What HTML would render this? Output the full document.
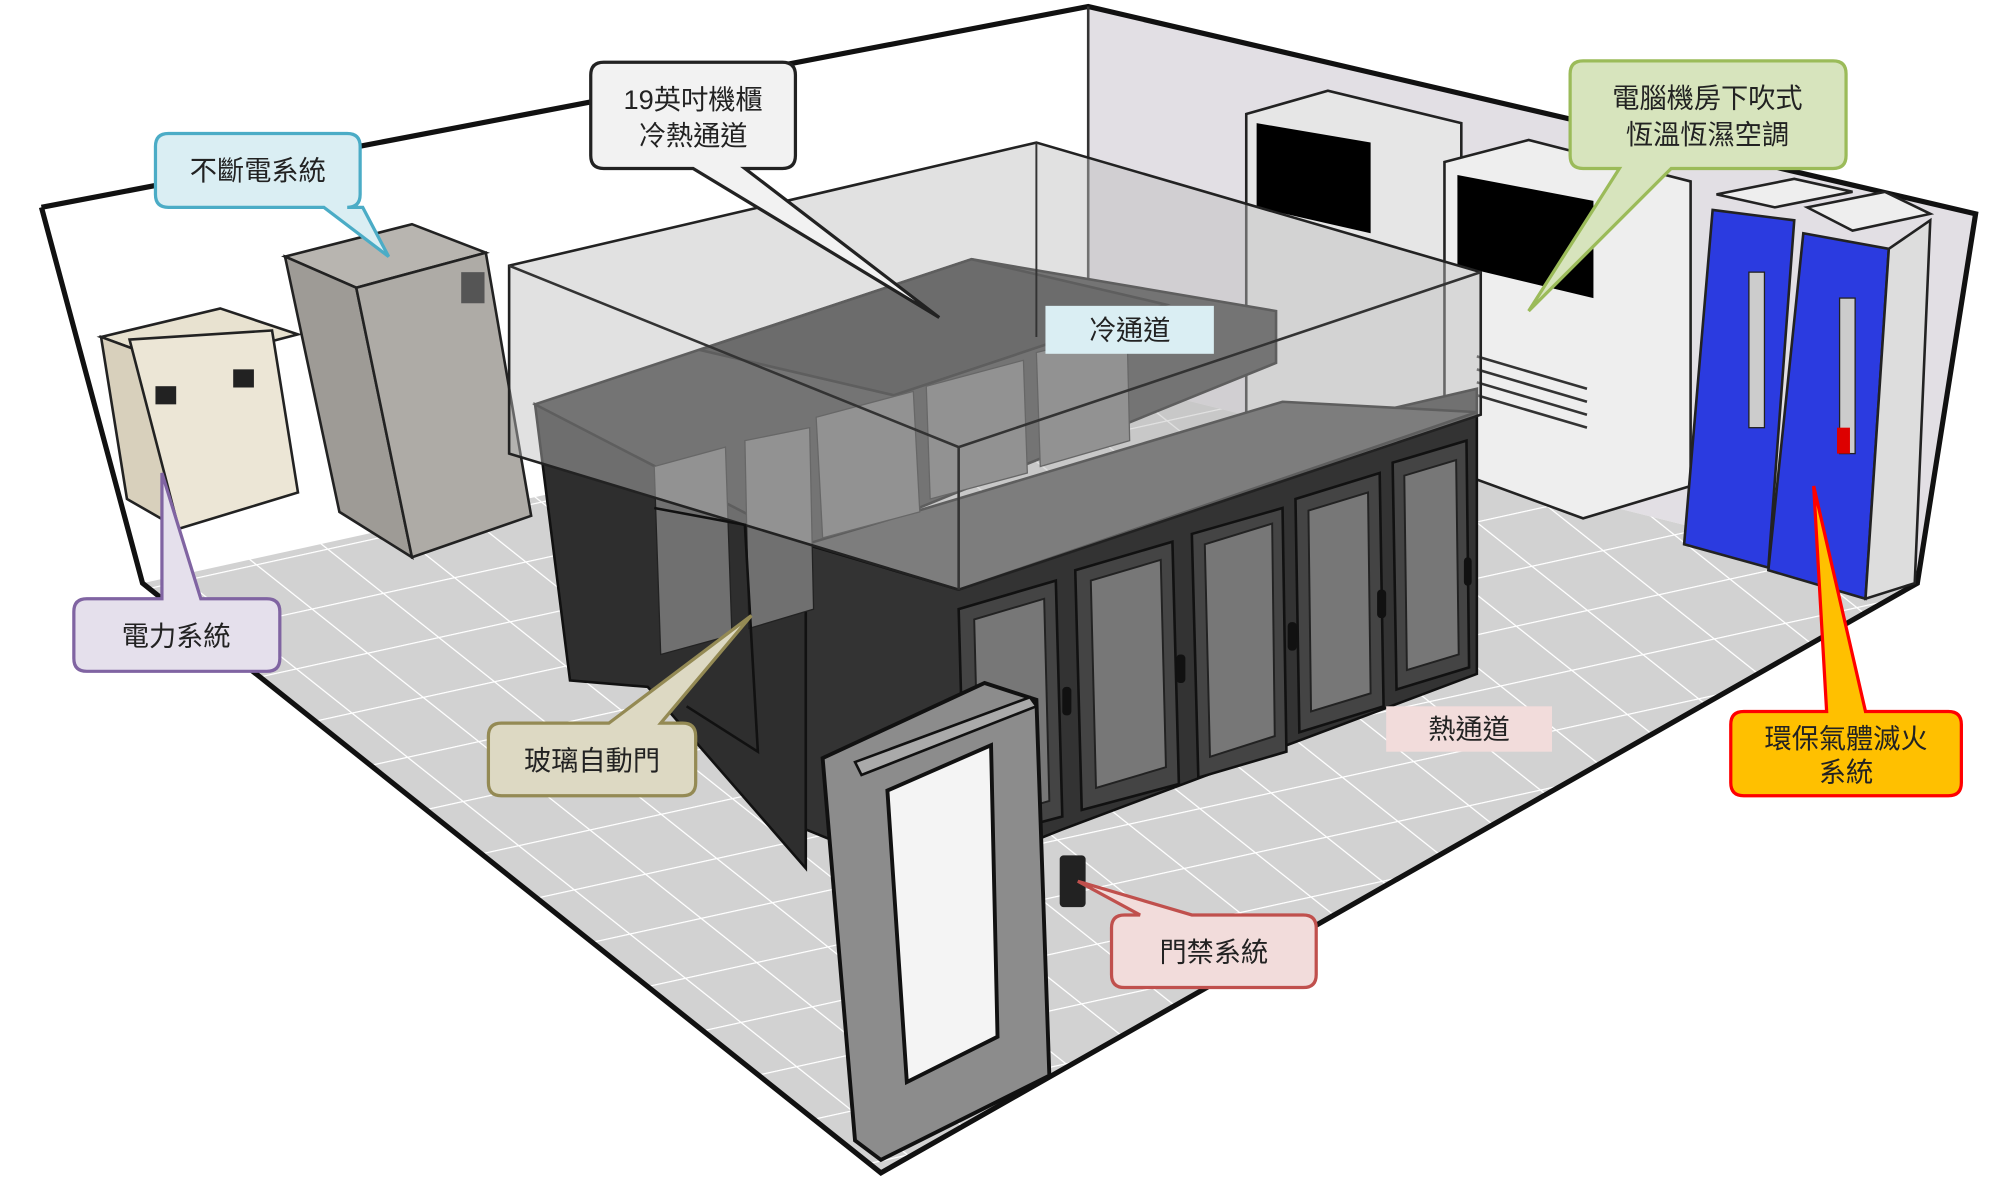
<!DOCTYPE html>
<html><head><meta charset="utf-8"><style>
html,body{margin:0;padding:0;background:#fff;}
svg{display:block;}
text{font-family:"Liberation Sans","Noto Sans CJK TC",sans-serif;font-size:21px;fill:#222;}
</style></head><body>
<svg width="2008" height="1191" viewBox="0 0 1550 919" preserveAspectRatio="none" xmlns="http://www.w3.org/2000/svg">
<defs>
<pattern id="tiles" width="55" height="55" patternUnits="userSpaceOnUse" patternTransform="matrix(1,-0.22,0.78,0.62,0,0)">
<rect width="55" height="55" fill="#d2d2d2"/><path d="M0 0H55M0 0V55" stroke="#fff" stroke-width="2.5"/>
</pattern>
</defs>
<polygon points="32,160 840,5 840,290 110,450" fill="#fff"/>
<polygon points="840,5 1525,165 1480,450 840,290" fill="#e2dfe4"/>
<polygon points="110,450 840,290 1480,450 680,905" fill="url(#tiles)"/>
<polyline points="32,160 840,5 1525,165 1480,450 680,905 110,450 32,160" fill="none" stroke="#111" stroke-width="4"/>
<line x1="840" y1="5" x2="840" y2="290" stroke="#333" stroke-width="2"/>
<polygon points="78,260 170,238 230,258 138,282" fill="#e8e2d0" stroke="#222" stroke-width="2"/>
<polygon points="78,260 138,282 138,408 98,385" fill="#d8d0bc" stroke="#222" stroke-width="2"/>
<polygon points="100,262 210,255 230,380 138,408" fill="#ece6d6" stroke="#222" stroke-width="2"/>
<rect x="120" y="298" width="16" height="14" fill="#222"/><rect x="180" y="285" width="16" height="14" fill="#222"/>
<polygon points="220,198 318,173 375,195 275,222" fill="#b8b5b0" stroke="#222" stroke-width="2"/>
<polygon points="220,198 275,222 318,430 262,395" fill="#9e9b96" stroke="#222" stroke-width="2"/>
<polygon points="275,222 375,195 410,398 318,430" fill="#aeaba6" stroke="#222" stroke-width="2"/>
<rect x="356" y="210" width="18" height="24" fill="#555"/>
<polygon points="962,88 1025,70 1128,95 1128,350 1060,330 962,330" fill="#e6e6e6" stroke="#222" stroke-width="2"/>
<polygon points="970,95 1058,110 1058,180 970,160" fill="#000"/>
<polygon points="1115,125 1180,108 1305,140 1305,375 1222,400 1140,370 1115,370" fill="#eeeeee" stroke="#222" stroke-width="2"/>
<polygon points="1125,135 1230,155 1230,230 1125,205" fill="#000"/>
<g stroke="#333" stroke-width="2"><line x1="1140" y1="275" x2="1225" y2="300"/><line x1="1140" y1="285" x2="1225" y2="310"/><line x1="1140" y1="295" x2="1225" y2="320"/><line x1="1140" y1="305" x2="1225" y2="330"/></g>
<polygon points="1325,150 1385,138 1430,148 1370,160" fill="#eee" stroke="#222" stroke-width="2"/>
<polygon points="1395,160 1455,148 1490,165 1430,178" fill="#eee" stroke="#222" stroke-width="2"/>
<polygon points="1322,162 1385,170 1365,438 1300,420" fill="#2b3be0" stroke="#222" stroke-width="2"/>
<polygon points="1392,180 1458,192 1440,462 1365,440" fill="#2b3be0" stroke="#222" stroke-width="2"/>
<polygon points="1458,192 1490,170 1478,450 1440,462" fill="#ddd" stroke="#222" stroke-width="2"/>
<rect x="1350" y="210" width="12" height="120" fill="#ccc" stroke="#222"/><rect x="1420" y="230" width="12" height="120" fill="#ccc" stroke="#222"/>
<rect x="1418" y="330" width="10" height="20" fill="#d00"/>
<!-- rack cluster -->
<polygon points="413,312 750,200 985,240 985,280 640,420 640,540 622,445" fill="#3a3a3a" stroke="#111" stroke-width="2"/>
<polygon points="540,270 750,200 900,235 690,305" fill="#2a2a2a" stroke="#111" stroke-width="2"/>
<polygon points="413,312 622,420 622,670 500,530 440,525" fill="#2e2e2e" stroke="#111" stroke-width="2"/>
<polygon points="622,420 1140,300 1140,520 820,640 720,680 622,640" fill="#333" stroke="#111" stroke-width="2"/>
<polygon points="622,420 990,310 1140,318 740,455" fill="#4a4a4a" stroke="#111" stroke-width="2"/>
<g fill="#444" stroke="#111" stroke-width="2">
<polygon points="740,470 815,448 820,630 745,650"/>
<polygon points="830,440 905,418 910,605 835,625"/>
<polygon points="920,412 990,392 993,580 925,600"/>
<polygon points="1000,385 1065,365 1068,545 1003,565"/>
<polygon points="1075,357 1132,340 1134,515 1078,532"/>
</g>
<g fill="#777" stroke="#222" stroke-width="1.5">
<polygon points="752,478 806,462 810,618 756,634"/>
<polygon points="842,448 896,432 900,592 846,608"/>
<polygon points="930,420 982,404 984,568 934,584"/>
<polygon points="1010,394 1056,380 1058,535 1012,549"/>
<polygon points="1084,367 1124,355 1126,505 1086,517"/>
</g>
<g fill="#111"><rect x="820" y="530" width="7" height="22" rx="3"/><rect x="908" y="505" width="7" height="22" rx="3"/><rect x="994" y="480" width="7" height="22" rx="3"/><rect x="1063" y="455" width="7" height="22" rx="3"/><rect x="1130" y="430" width="6" height="22" rx="3"/></g>
<g fill="#707070" stroke="#222"><polygon points="630,322 705,302 710,395 635,415"/><polygon points="715,298 790,278 793,365 718,385"/><polygon points="800,272 870,255 872,340 803,360"/><polygon points="505,360 560,345 565,490 510,505"/><polygon points="575,340 625,330 628,470 578,485"/></g>
<polygon points="393,205 800,110 1143,210 1143,320 740,455 393,350" fill="#bdbdbd" fill-opacity="0.45" stroke="#222" stroke-width="2"/>
<polyline points="393,205 740,345 1143,210" fill="none" stroke="#333" stroke-width="2"/>
<line x1="740" y1="345" x2="740" y2="455" stroke="#333" stroke-width="2"/>
<line x1="800" y1="110" x2="800" y2="260" stroke="#333" stroke-width="1.5"/>
<polyline points="505,392 575,405 585,580 530,545" fill="none" stroke="#111" stroke-width="2"/>
<polygon points="635,585 760,527 800,540 810,830 680,895 660,880" fill="#8c8c8c" stroke="#111" stroke-width="3"/>
<polygon points="685,610 765,575 770,800 700,835" fill="#f4f4f4" stroke="#111" stroke-width="3"/>
<polygon points="660,588 795,538 800,545 665,598" fill="#aaa" stroke="#111" stroke-width="2"/>
<rect x="818" y="660" width="20" height="40" rx="3" fill="#222"/>
<g stroke-width="2.5">
<path d="M130,103H268Q278,103 278,113V150Q278,160 268,160H280L300,198L250,160H130Q120,160 120,150V113Q120,103 130,103Z" fill="#daeef3" stroke="#4bacc6"/>
<path d="M466,48H604Q614,48 614,58V120Q614,130 604,130H575L725,245L535,130H466Q456,130 456,120V58Q456,48 466,48Z" fill="#f2f2f2" stroke="#222"/>
<path d="M1222,47H1415Q1425,47 1425,57V120Q1425,130 1415,130H1290L1180,240L1250,130H1222Q1212,130 1212,120V57Q1212,47 1222,47Z" fill="#d7e4bd" stroke="#9bbb59"/>
<path d="M67,462H125L125,365L155,462H206Q216,462 216,472V508Q216,518 206,518H67Q57,518 57,508V472Q57,462 67,462Z" fill="#e5e0ec" stroke="#8064a2"/>
<path d="M387,558H470L580,475L510,558H527Q537,558 537,568V604Q537,614 527,614H387Q377,614 377,604V568Q377,558 387,558Z" fill="#ddd9c3" stroke="#948a54"/>
<path d="M1346,549H1410L1400,375L1440,549H1504Q1514,549 1514,559V604Q1514,614 1504,614H1346Q1336,614 1336,604V559Q1336,549 1346,549Z" fill="#ffc000" stroke="#ff0000"/>
<path d="M868,706H880L832,680L920,706H1006Q1016,706 1016,716V752Q1016,762 1006,762H868Q858,762 858,752V716Q858,706 868,706Z" fill="#f2dcdb" stroke="#c0504d"/>
</g>
<rect x="807" y="236" width="130" height="37" fill="#daeef3"/>
<rect x="1070" y="545" width="128" height="35" fill="#f2dcdb"/>
<text x="199" y="139" text-anchor="middle">不斷電系統</text>
<text x="535" y="84" text-anchor="middle">19英吋機櫃</text>
<text x="535" y="112" text-anchor="middle">冷熱通道</text>
<text x="1318" y="83" text-anchor="middle">電腦機房下吹式</text>
<text x="1318" y="111" text-anchor="middle">恆溫恆濕空調</text>
<text x="872" y="262" text-anchor="middle">冷通道</text>
<text x="136" y="498" text-anchor="middle">電力系統</text>
<text x="457" y="594" text-anchor="middle">玻璃自動門</text>
<text x="1134" y="570" text-anchor="middle">熱通道</text>
<text x="1425" y="577" text-anchor="middle">環保氣體滅火</text>
<text x="1425" y="603" text-anchor="middle">系統</text>
<text x="937" y="742" text-anchor="middle">門禁系統</text>
</svg>
</body></html>
